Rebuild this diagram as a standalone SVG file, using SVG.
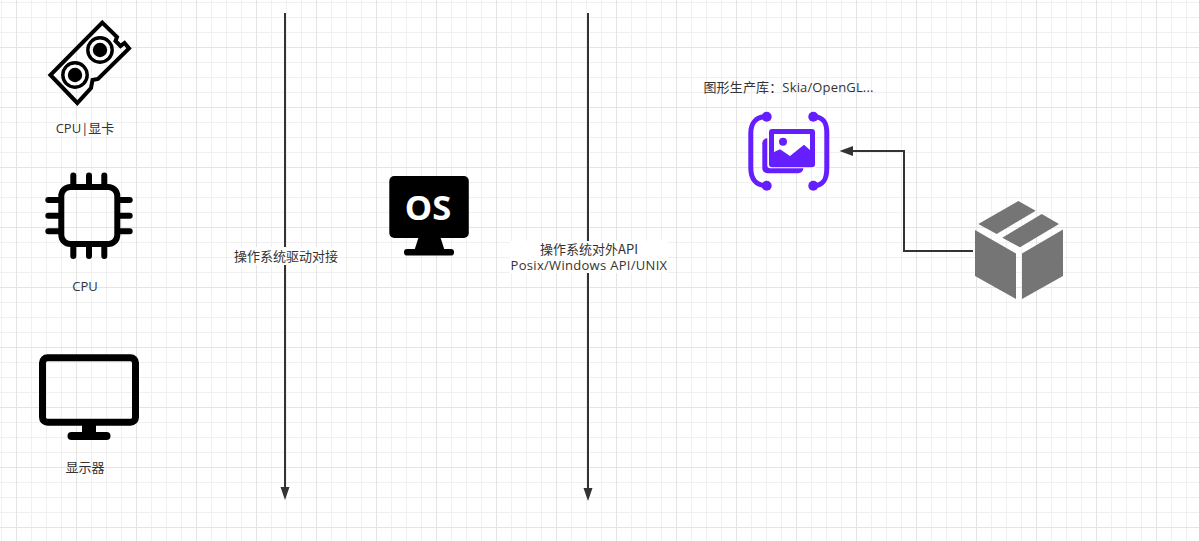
<svg xmlns="http://www.w3.org/2000/svg" width="1199" height="541" viewBox="0 0 1199 541">
<style>
text{font-family:"Noto Sans CJK SC","Noto Sans",sans-serif;font-size:13px;fill:#333;text-anchor:middle}
.l{font-family:"Open Sans","Noto Sans CJK SC",sans-serif}
.w{letter-spacing:.3px}
.c{fill:none;stroke:#333;stroke-width:2}
.a{fill:#333;stroke:none}
.bk{fill:none;stroke:#000;stroke-linecap:round}
.pu{fill:#651fff}
.box{fill:#757575}
</style>
<defs>
<pattern id="g" width="60" height="60" patternUnits="userSpaceOnUse" x="16" y="-13">
<path d="M15.5 0V60M30.5 0V60M45.5 0V60M0 15.5H60M0 30.5H60M0 45.5H60" fill="none" stroke="#f0f0f0" stroke-width="1"/>
<path d="M.5 0V60M0 .5H60" fill="none" stroke="#e4e4e4" stroke-width="1"/>
</pattern>
</defs>
<rect width="1199" height="541" fill="#fff"/>
<rect width="1199" height="541" fill="url(#g)"/>
<g id="connectors">
<path class="c" d="M285 13V488"/><path class="a" d="M280.500 487H289.500L285 500Z"/>
<path class="c" d="M588 13V489"/><path class="a" d="M583.500 488H592.500L588 501Z"/>
<path class="c" d="M973 251H904V151H850"/><path class="a" d="M839.500 151L853 146V156Z"/>
</g>
<g id="gpu">
<path d="M102.300 22.600L117 37L115.500 41L120.500 46L124.500 43L129 48.300L98 79L92.500 80L91 88L77.300 103L50.400 75Z" fill="none" stroke="#000" stroke-width="4" stroke-linejoin="miter"/>
<circle cx="100" cy="50" r="12.200" fill="none" stroke="#000" stroke-width="3.400"/><circle cx="100" cy="50" r="7.200"/>
<circle cx="75" cy="75" r="12.200" fill="none" stroke="#000" stroke-width="3.400"/><circle cx="75" cy="75" r="7.200"/>
<text class="l" x="85" y="133">CPU|显卡</text>
</g>
<g id="cpu">
<rect x="61.300" y="187" width="56" height="57" rx="9" fill="none" stroke="#000" stroke-width="6"/>
<path class="bk" stroke-width="6" d="M73.300 175.500V184M89 175.500V184M104.300 175.500V184M73.300 247V256M89 247V256M104.300 247V256M48.300 200H58M48.300 215.700H58M48.300 231.300H58M120 200H129.700M120 215.700H129.700M120 231.300H129.700"/>
<text class="l" x="85" y="290.500">CPU</text>
</g>
<g id="monitor">
<rect x="42.500" y="357.800" width="93" height="64.500" rx="5" fill="none" stroke="#000" stroke-width="7"/>
<rect x="82" y="424" width="14" height="10"/><rect x="67.500" y="432" width="43" height="8" rx="4"/>
<text class="l" x="85" y="471.500">显示器</text>
</g>
<g id="os">
<rect x="389.300" y="176" width="79.500" height="62" rx="5"/>
<path d="M419 236L414.500 250H444.500L440 236Z"/><rect x="404" y="249" width="50" height="6.500" rx="3"/>
<text x="428" y="220" style="font-family:'Open Sans',sans-serif;font-size:34.500px;font-weight:700;fill:#fff">OS</text>
</g>
<g id="graphics">
<text class="l" x="788.500" y="92" style="letter-spacing:.15px">图形生产库：Skia/OpenGL...</text>
<path d="M766.700 116.700C756 116.700 750.800 123 750.800 133V168C750.800 179 756 185.700 766.700 185.700M813.300 116.700C824 116.700 826.800 123 826.800 133V168C826.800 179 824 185.700 813.300 185.700" fill="none" stroke="#651fff" stroke-width="5"/>
<circle class="pu" cx="766.700" cy="116.700" r="5"/><circle class="pu" cx="813.300" cy="116.700" r="5"/>
<circle class="pu" cx="766.700" cy="185.700" r="5"/><circle class="pu" cx="813.300" cy="185.700" r="5"/>
<rect x="762.300" y="138.300" width="41" height="35" rx="5" fill="#651fff"/>
<rect x="767.300" y="127" width="49" height="41.300" rx="3" fill="#fff"/>
<rect x="769" y="129" width="46" height="38.300" rx="3" fill="#651fff"/>
<rect x="774" y="134" width="36" height="28" fill="#fff"/>
<circle cx="783" cy="141.700" r="4" fill="#651fff"/>
<path class="pu" d="M774 152L780 149.300L790 156L804 144.700L810 150V164H774Z"/>
</g>
<g id="box">
<path class="box" d="M1018.300 201L1035.700 210.700L996.700 234L978.300 224Z"/>
<path class="box" d="M1041.700 214L1059 224L1020 247.300L1002.300 237.700Z"/>
<path class="box" d="M975 230L1016 253.500V299L975 276Z"/>
<path class="box" d="M1022 253.500L1063 229.500V276L1022 299Z"/>
</g>
<g id="label-driver"><rect x="234" y="247" width="104" height="18" fill="#fff"/><text x="286" y="261">操作系统驱动对接</text></g>
<g id="label-api"><rect x="510" y="241" width="158" height="32" fill="#fff"/><text x="589" y="254">操作系统对外API</text><text class="l w" x="589" y="270">Posix/Windows API/UNIX</text></g>
</svg>
